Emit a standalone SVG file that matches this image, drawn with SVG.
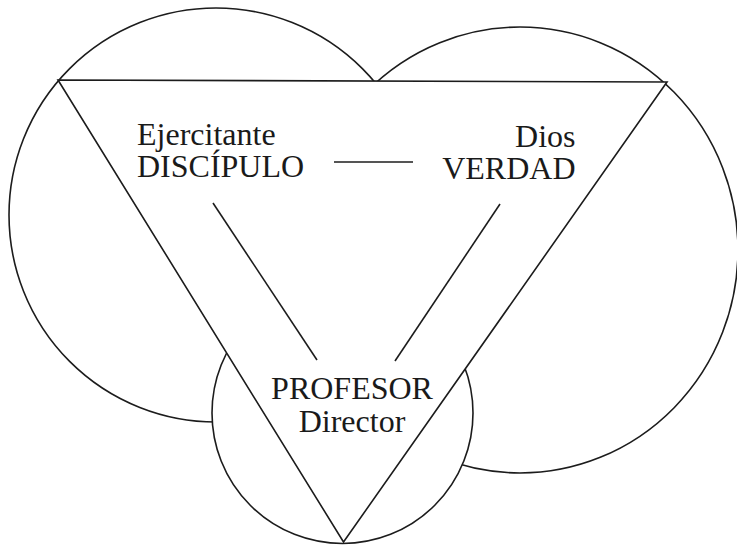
<svg xmlns="http://www.w3.org/2000/svg" width="737" height="546" viewBox="0 0 737 546">
  <style>
    .shape { fill: #ffffff; stroke: #1c1c1c; stroke-width: 1.6; }
    .conn { stroke: #1c1c1c; stroke-width: 1.6; fill: none; }
    .lbl { font-family: "Liberation Serif", "Times New Roman", serif; font-size: 32px; fill: #1a1a1a; }
  </style>
  <rect x="0" y="0" width="737" height="546" fill="#ffffff"/>
  <g id="circle-verdad">
    <ellipse class="shape" cx="520" cy="250" rx="218" ry="223"/>
  </g>
  <g id="circle-discipulo">
    <ellipse class="shape" cx="216" cy="215" rx="207" ry="207"/>
  </g>
  <g id="circle-profesor">
    <circle class="shape" cx="342.5" cy="413" r="130.5"/>
  </g>
  <g id="triangle">
    <polygon class="shape" points="58,80 667,82 343.5,542" stroke-linejoin="miter"/>
  </g>
  <g id="connectors">
    <line class="conn" x1="334" y1="162" x2="413" y2="162"/>
    <line class="conn" x1="213" y1="203" x2="317" y2="360"/>
    <line class="conn" x1="500" y1="204" x2="395" y2="361"/>
  </g>
  <g id="node-discipulo">
    <text class="lbl"><tspan x="137" y="144.5">Ejercitante</tspan><tspan x="137" y="177">DISCÍPULO</tspan></text>
  </g>
  <g id="node-verdad">
    <text class="lbl" text-anchor="end"><tspan x="575.5" y="146.5">Dios</tspan><tspan x="575.5" y="179">VERDAD</tspan></text>
  </g>
  <g id="node-profesor">
    <text class="lbl" text-anchor="middle"><tspan x="352" y="399">PROFESOR</tspan><tspan x="352" y="431.5">Director</tspan></text>
  </g>
</svg>
